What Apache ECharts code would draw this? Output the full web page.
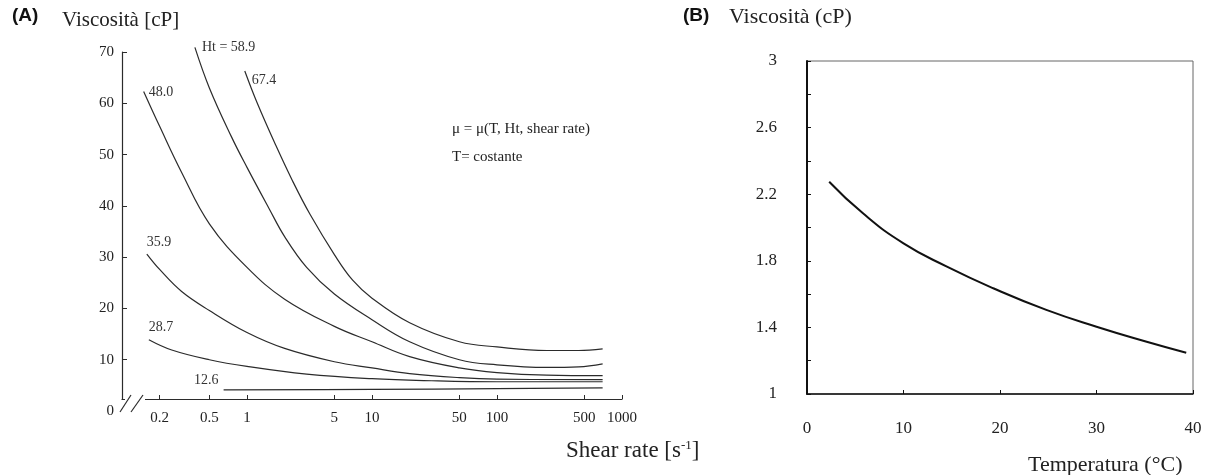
<!DOCTYPE html>
<html>
<head>
<meta charset="utf-8">
<script src="https://cdn.jsdelivr.net/npm/echarts@6/dist/echarts.min.js"></script>
<style>
html, body { margin: 0; padding: 0; background: #fff; }
#chart { width: 1211px; height: 475px; }
</style>
</head>
<body>
<div id="chart"></div>
<script>
// (A) viscosita' vs shear rate, una curva per ogni ematocrito (Ht)
var shearTicks = [0.2, 0.5, 1, 5, 10, 50, 100, 500, 1000];
var htLabels = ['67.4', 'Ht = 58.9', '48.0', '35.9', '28.7', '12.6'];
var ht674 = [[0.96, 66.3], [1.2, 60.2], [1.7, 51.8], [2.3, 45.0], [3.2, 38.3], [5, 30.5], [7, 25.5], [10, 22.0], [20, 17.2], [50, 13.5], [100, 12.5], [250, 11.8], [450, 11.8], [700, 12.1]];
var ht589 = [[0.383, 70.9], [0.5, 63.0], [0.75, 53.5], [1, 47.5], [1.5, 39.5], [2, 34.0], [3, 28.0], [5, 22.8], [10, 17.8], [20, 13.5], [50, 10.0], [100, 9.0], [250, 8.5], [450, 8.6], [700, 9.2]];
var ht480 = [[0.149, 62.3], [0.2, 55.5], [0.3, 46.5], [0.5, 36.5], [1, 28.0], [2, 21.8], [5, 16.5], [10, 13.5], [20, 10.6], [50, 8.4], [100, 7.5], [250, 7.0], [700, 6.9]];
var ht359 = [[0.158, 30.6], [0.2, 27.6], [0.3, 23.3], [0.5, 19.6], [1, 15.3], [2, 12.2], [5, 9.6], [10, 8.4], [20, 7.3], [50, 6.5], [100, 6.2], [700, 6.1]];
var ht287 = [[0.164, 13.9], [0.25, 11.9], [0.5, 10.0], [1, 8.7], [3, 7.2], [10, 6.3], [30, 5.9], [100, 5.7], [700, 5.7]];
var ht126 = [[0.65, 4.1], [10, 4.2], [100, 4.35], [700, 4.5]];

// (B) viscosita' vs temperatura
var tempC = [2.3, 5.8, 10, 14.5, 19.3, 24.8, 30, 35.2, 39.3];
var viscT = [2.275, 2.085, 1.905, 1.765, 1.635, 1.505, 1.404, 1.314, 1.248];

var serif = 'Liberation Serif';
var ink = '#2b2b2b';

// posizione dell'etichetta accanto all'inizio di ogni curva
var labelPlace = [
    { position: 'right', offset: [2, 9] },
    { position: 'right', offset: [2, 0] },
    { position: 'right', offset: [0, 1] },
    { position: 'right', offset: [-5, -12] },
    { position: 'right', offset: [-5, -12] },
    { position: 'left', offset: [0, -10] }
];

function curveSeries(points, i) {
    var data = points.map(function(p, k) {
        if (k !== 0) return p;
        return {
            value: p,
            label: {
                show: true,
                formatter: htLabels[i],
                position: labelPlace[i].position,
                offset: labelPlace[i].offset,
                fontFamily: serif,
                fontSize: 14,
                color: '#333'
            }
        };
    });
    return {
        type: 'line',
        xAxisIndex: 0,
        yAxisIndex: 0,
        clip: false,
        smooth: 0.4,
        showSymbol: true,
        symbol: 'circle',
        symbolSize: 0,
        lineStyle: { color: ink, width: 1.2 },
        data: data
    };
}

var chart = echarts.init(document.getElementById('chart'));

var plain = { fontFamily: serif, fontWeight: 'normal', color: '#222' };
function txt(size) {
    return Object.assign({ fontSize: size }, plain);
}

var option = {
    backgroundColor: '#fff',
    animation: false,
    title: [
        { text: '(A)', left: 12, top: 6, padding: 0, textStyle: { fontFamily: 'Liberation Sans', fontWeight: 'bold', fontSize: 19, color: '#111' } },
        { text: 'Viscosità [cP]', left: 62, top: 10, padding: 0, textStyle: txt(21) },
        { text: '(B)', left: 683, top: 6, padding: 0, textStyle: { fontFamily: 'Liberation Sans', fontWeight: 'bold', fontSize: 19, color: '#111' } },
        { text: 'Viscosità (cP)', left: 729, top: 6, padding: 0, textStyle: txt(22) },
        { text: 'μ = μ(T, Ht, shear rate)', left: 452, top: 122, padding: 0, textStyle: txt(15) },
        { text: 'T= costante', left: 452, top: 150, padding: 0, textStyle: txt(15) },
        {
            text: '{a|Shear rate [s}{s|-1}{a|]}', left: 566, top: 439, padding: 0,
            textStyle: {
                rich: {
                    a: { fontFamily: serif, fontWeight: 'normal', fontSize: 23, color: '#222' },
                    s: { fontFamily: serif, fontWeight: 'normal', fontSize: 13, color: '#222', verticalAlign: 'top', padding: [0, 0, 9, 0] }
                }
            }
        },
        { text: 'Temperatura (°C)', left: 1028, top: 454, padding: 0, textStyle: txt(22) }
    ],
    grid: [
        { left: 122, top: 52, width: 500, height: 359 },
        { left: 807, top: 61, width: 386, height: 333, show: true, borderColor: '#666', borderWidth: 1 }
    ],
    xAxis: [
        {
            type: 'log', gridIndex: 0, min: 0.1, max: 1000, offset: -12,
            axisLine: { lineStyle: { color: ink, width: 1.2 } },
            axisTick: { inside: true, length: 4, customValues: shearTicks, lineStyle: { color: ink } },
            axisLabel: { customValues: shearTicks, margin: 12, fontFamily: serif, fontSize: 15, color: '#222',
                formatter: function(v) { return String(v); } },
            splitLine: { show: false },
            minorTick: { show: false }
        },
        {
            type: 'value', gridIndex: 1, min: 0, max: 40, interval: 10,
            axisLine: { lineStyle: { color: '#111', width: 1.5 } },
            axisTick: { inside: true, length: 4, lineStyle: { color: '#111' } },
            axisLabel: { margin: 26, fontFamily: serif, fontSize: 17, color: '#222' },
            splitLine: { show: false }
        }
    ],
    yAxis: [
        {
            type: 'value', gridIndex: 0, min: 0, max: 70, interval: 10,
            axisLine: { show: true, lineStyle: { color: ink, width: 1.2 } },
            axisTick: { show: true, inside: true, length: 5, lineStyle: { color: ink } },
            axisLabel: { margin: 8, fontFamily: serif, fontSize: 15, color: '#222' },
            splitLine: { show: false }
        },
        {
            type: 'value', gridIndex: 1, min: 1, max: 3, interval: 0.2,
            axisLine: { show: true, lineStyle: { color: '#111', width: 2 } },
            axisTick: { show: true, inside: true, length: 4, lineStyle: { color: '#111' } },
            axisLabel: {
                margin: 30, fontFamily: serif, fontSize: 17, color: '#222',
                formatter: function(v) {
                    var k = Math.round((v - 1) / 0.2);
                    return k % 2 === 0 ? String(+v.toFixed(1)) : '';
                }
            },
            splitLine: { show: false }
        }
    ],
    // interruzione dell'asse in basso a sinistra (//)
    graphic: [
        { type: 'rect', shape: { x: 119, y: 400, width: 26, height: 14 }, style: { fill: '#fff' }, z: 100 },
        { type: 'rect', shape: { x: 125, y: 396, width: 20, height: 5 }, style: { fill: '#fff' }, z: 100 },
        { type: 'line', shape: { x1: 120, y1: 412, x2: 131, y2: 395 }, style: { stroke: ink, lineWidth: 1.2 }, z: 101 },
        { type: 'line', shape: { x1: 131, y1: 412, x2: 143, y2: 395 }, style: { stroke: ink, lineWidth: 1.2 }, z: 101 }
    ],
    series: [
        curveSeries(ht674, 0),
        curveSeries(ht589, 1),
        curveSeries(ht480, 2),
        curveSeries(ht359, 3),
        curveSeries(ht287, 4),
        curveSeries(ht126, 5),
        {
            type: 'line',
            xAxisIndex: 1,
            yAxisIndex: 1,
            smooth: true,
            showSymbol: false,
            symbol: 'none',
            lineStyle: { color: '#111', width: 2 },
            data: tempC.map(function(t, i) { return [t, viscT[i]]; })
        }
    ]
};

chart.setOption(option);
</script>
</body>
</html>
